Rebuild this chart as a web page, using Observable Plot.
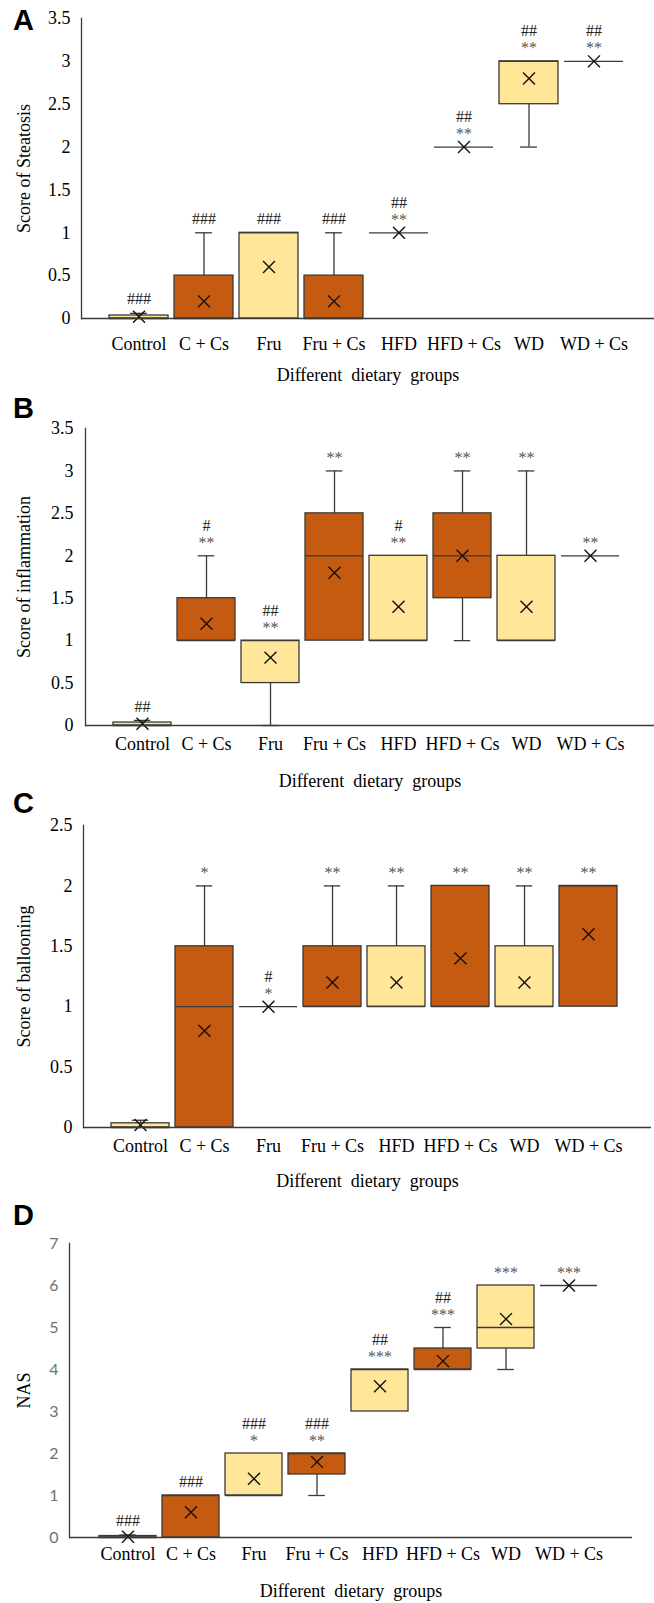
<!DOCTYPE html>
<html><head><meta charset="utf-8">
<script src="https://cdn.jsdelivr.net/npm/d3@7"></script>
<script src="https://cdn.jsdelivr.net/npm/@observablehq/plot@0.6"></script>
<style>
body{margin:0;background:#fff;}
#wrap{position:relative;width:654px;height:1603px;overflow:hidden;}
.panel{position:absolute;left:0;}
.letter{position:absolute;left:13px;font:bold 29px "Liberation Sans",Arial,sans-serif;color:#000;line-height:1;}
svg text{white-space:pre;}
</style></head><body><div id="wrap"></div>
<script>
const groups = ["Control", "C + Cs", "Fru", "Fru + Cs", "HFD", "HFD + Cs", "WD", "WD + Cs"];
const fillColors = ["#FFE699", "#C55A11", "#FFE699", "#C55A11", "#FFE699", "#C55A11", "#FFE699", "#C55A11"];

// A: steatosis
const steatQ1 = [0, 0, 0, 0, 1, 2, 2.5, 3];
const steatMed = [0, 0, 1, 0, 1, 2, 3, 3];
const steatQ3 = [0.035, 0.5, 1, 0.5, 1, 2, 3, 3];
const steatLo = [0, 0, 0, 0, 1, 2, 2, 3];
const steatHi = [0.06, 1, 1, 1, 1, 2, 3, 3];
const steatMean = [0.02, 0.2, 0.6, 0.2, 1, 2, 2.8, 3];
const steatStars = ["", "", "", "", "**", "**", "**", "**"];
const steatHash = ["###", "###", "###", "###", "##", "##", "##", "##"];

// B: inflammation
const inflQ1 = [0, 1, 0.5, 1, 1, 1.5, 1, 2];
const inflMed = [0, 1, 1, 2, 1, 2, 1, 2];
const inflQ3 = [0.035, 1.5, 1, 2.5, 2, 2.5, 2, 2];
const inflLo = [0, 1, 0, 1, 1, 1, 1, 2];
const inflHi = [0.06, 2, 1, 3, 2, 3, 3, 2];
const inflMean = [0.02, 1.2, 0.8, 1.8, 1.4, 2, 1.4, 2];
const inflStars = ["", "**", "**", "**", "**", "**", "**", "**"];
const inflHash = ["##", "#", "##", "", "#", "", "", ""];

// C: ballooning
const ballQ1 = [0, 0, 1, 1, 1, 1, 1, 1];
const ballMed = [0, 1, 1, 1, 1, 1, 1, 2];
const ballQ3 = [0.035, 1.5, 1, 1.5, 1.5, 2, 1.5, 2];
const ballLo = [0, 0, 1, 1, 1, 1, 1, 1];
const ballHi = [0.06, 2, 1, 2, 2, 2, 2, 2];
const ballMean = [0.02, 0.8, 1, 1.2, 1.2, 1.4, 1.2, 1.6];
const ballStars = ["", "*", "*", "**", "**", "**", "**", "**"];
const ballHash = ["", "", "#", "", "", "", "", ""];

// D: NAS
const nasQ1 = [0, 0, 1, 1.5, 3, 4, 4.5, 6];
const nasMed = [0, 1, 1, 2, 4, 4, 5, 6];
const nasQ3 = [0.035, 1, 2, 2, 4, 4.5, 6, 6];
const nasLo = [0, 0, 1, 1, 3, 4, 4, 6];
const nasHi = [0.06, 1, 2, 2, 4, 5, 6, 6];
const nasMean = [0.02, 0.6, 1.4, 1.8, 3.6, 4.2, 5.2, 6];
const nasStars = ["", "", "*", "**", "***", "***", "***", "***"];
const nasHash = ["###", "###", "###", "###", "##", "##", "", ""];

const ticksA = [0, 0.5, 1, 1.5, 2, 2.5, 3, 3.5];
const ticksB = [0, 0.5, 1, 1.5, 2, 2.5, 3, 3.5];
const ticksC = [0, 0.5, 1, 1.5, 2, 2.5];
const ticksD = [0, 1, 2, 3, 4, 5, 6, 7];

const SERIF = '"Liberation Serif","Times New Roman",serif';
const SANS = 'Lato,"Open Sans","Liberation Sans",sans-serif';
const EDGE = "#3a3a3a";

function panel(cfg) {
  const rows = groups.map((g, i) => ({
    g, q1: cfg.q1[i], med: cfg.med[i], q3: cfg.q3[i], lo: cfg.lo[i], hi: cfg.hi[i],
    mean: cfg.mean[i], stars: cfg.stars[i], hash: cfg.hash[i], color: fillColors[i]
  }));
  const bw = (cfg.xRange[1] - cfg.xRange[0]) / 8 * (1 - cfg.pi);
  const capInset = (bw - 17) / 2;
  const upper = rows.filter(d => d.hi > d.q3);
  const lower = rows.filter(d => d.lo < d.q1);
  const tickAxis = cfg.sans
    ? Plot.axisY({ticks: cfg.ticks, tickSize: 0, tickPadding: cfg.yPad, tickFormat: d => String(d),
        fontFamily: SANS, fontSize: 16, fill: "#707070", label: null})
    : Plot.axisY({ticks: cfg.ticks, tickSize: 0, tickPadding: cfg.yPad, tickFormat: d => String(d),
        fontSize: 18, label: null});
  const svg = Plot.plot({
    width: 654, height: cfg.height,
    marginTop: cfg.mt, marginBottom: cfg.mb, marginLeft: cfg.ml, marginRight: cfg.mr,
    style: {fontFamily: SERIF, fontSize: "18px", color: "#000", background: "#fff"},
    x: {type: "band", domain: groups, range: cfg.xRange, paddingInner: cfg.pi, paddingOuter: cfg.pi / 2},
    y: {domain: cfg.yDomain},
    color: {type: "identity"},
    marks: [
      Plot.barY(rows.filter(d => d.q3 > d.q1), {x: "g", y1: "q1", y2: "q3", fill: "color", stroke: EDGE, strokeWidth: 1.3}),
      Plot.ruleX(upper, {x: "g", y1: "q3", y2: "hi", stroke: EDGE, strokeWidth: 1.3}),
      Plot.ruleX(lower, {x: "g", y1: "lo", y2: "q1", stroke: EDGE, strokeWidth: 1.3}),
      Plot.tickY(upper, {x: "g", y: "hi", stroke: EDGE, strokeWidth: 1.3, insetLeft: capInset, insetRight: capInset}),
      Plot.tickY(lower, {x: "g", y: "lo", stroke: EDGE, strokeWidth: 1.3, insetLeft: capInset, insetRight: capInset}),
      Plot.tickY(rows, {x: "g", y: "med", stroke: EDGE, strokeWidth: 1.3}),
      Plot.dot(rows, {x: "g", y: "mean", symbol: "times", r: 5.5, stroke: "#111", strokeWidth: 1.4}),
      Plot.text(rows.filter(d => d.stars), {x: "g", y: "hi", text: "stars", dy: -13, fontSize: 16, fill: "#555"}),
      Plot.text(rows.filter(d => d.hash && d.stars), {x: "g", y: "hi", text: "hash", dy: -30, fontSize: 16, fill: "#222"}),
      Plot.text(rows.filter(d => d.hash && !d.stars), {x: "g", y: "hi", text: "hash", dy: -14, fontSize: 16, fill: "#222"}),
      Plot.ruleY([0], {stroke: EDGE, strokeWidth: 1.3}),
      Plot.frame({anchor: "left", stroke: EDGE, strokeWidth: 1.3}),
      tickAxis,
      Plot.axisY({ticks: [], tickSize: 0, label: cfg.yLabel, labelArrow: "none", labelAnchor: "center", labelOffset: cfg.ylo, fontSize: 18}),
      Plot.axisX({tickSize: 0, tickPadding: cfg.xPad, fontSize: 18, label: "Different  dietary  groups", labelArrow: "none",
        labelAnchor: "center", labelOffset: cfg.xlo})
    ]
  });
  const div = document.createElement("div");
  div.className = "panel";
  div.style.top = cfg.top + "px";
  div.appendChild(svg);
  document.getElementById("wrap").appendChild(div);
  const L = document.createElement("div");
  L.className = "letter";
  L.style.top = cfg.letterTop + "px";
  L.textContent = cfg.letter;
  document.getElementById("wrap").appendChild(L);
}

panel({letter: "A", letterTop: 6, top: 0, height: 390, mt: 18, mb: 72, ml: 81, mr: 0, xRange: [106, 626], pi: 0.09,
  yDomain: [0, 3.5], ticks: ticksA, yLabel: "Score of Steatosis", yPad: 11, ylo: 64, xPad: 19, xlo: 62,
  q1: steatQ1, med: steatMed, q3: steatQ3, lo: steatLo, hi: steatHi, mean: steatMean, stars: steatStars, hash: steatHash});
panel({letter: "B", letterTop: 394, top: 390, height: 410, mt: 38, mb: 75, ml: 85, mr: 0, xRange: [109, 624], pi: 0.09,
  yDomain: [0, 3.5], ticks: ticksB, yLabel: "Score of inflammation", yPad: 12, ylo: 68, xPad: 12, xlo: 61,
  q1: inflQ1, med: inflMed, q3: inflQ3, lo: inflLo, hi: inflHi, mean: inflMean, stars: inflStars, hash: inflHash});
panel({letter: "C", letterTop: 789, top: 800, height: 395, mt: 25, mb: 68, ml: 83, mr: 3, xRange: [107, 622], pi: 0.09,
  yDomain: [0, 2.5], ticks: ticksC, yLabel: "Score of ballooning", yPad: 11, ylo: 66, xPad: 12, xlo: 59,
  q1: ballQ1, med: ballMed, q3: ballQ3, lo: ballLo, hi: ballHi, mean: ballMean, stars: ballStars, hash: ballHash});
panel({letter: "D", letterTop: 1201, top: 1195, height: 408, mt: 48, mb: 66, ml: 69, mr: 22, xRange: [93, 603], pi: 0.1,
  yDomain: [0, 7], ticks: ticksD, yLabel: "NAS", yPad: 11, ylo: 52, xPad: 10, xlo: 59, sans: true,
  q1: nasQ1, med: nasMed, q3: nasQ3, lo: nasLo, hi: nasHi, mean: nasMean, stars: nasStars, hash: nasHash});
</script>
</body></html>
